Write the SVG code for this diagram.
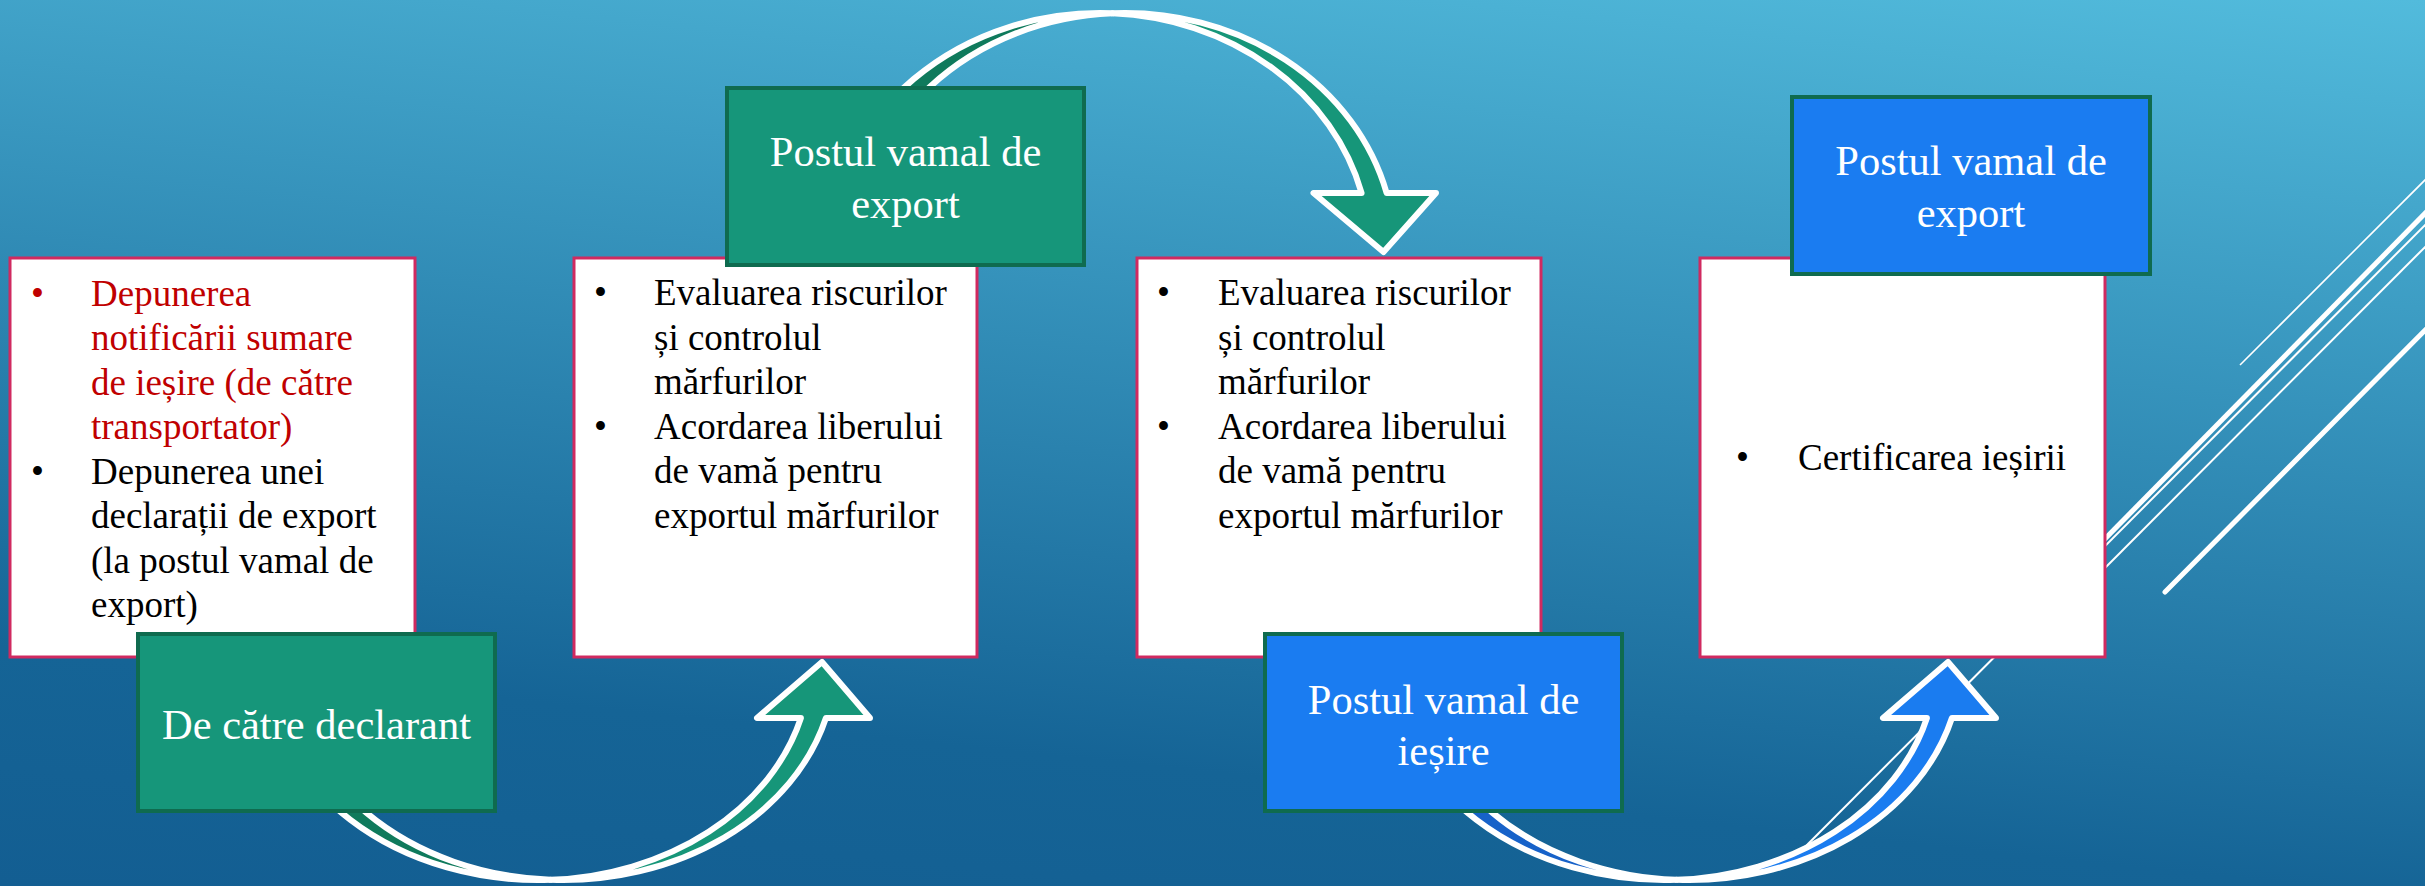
<svg xmlns="http://www.w3.org/2000/svg" width="2425" height="886" viewBox="0 0 2425 886">
  <defs>
    <linearGradient id="bg" gradientUnits="userSpaceOnUse" x1="2425" y1="0" x2="2309" y2="1124">
      <stop offset="0" stop-color="#52BBDC"/>
      <stop offset="0.79" stop-color="#156496"/>
      <stop offset="1" stop-color="#135E92"/>
    </linearGradient>
    <style>
      .card { fill: #FFFFFF; stroke: #D02A60; stroke-width: 3; }
      .hdr-g { fill: #16967A; stroke: #0F6B4F; stroke-width: 4; }
      .hdr-b { fill: #1A7CF1; stroke: #0F6B4F; stroke-width: 4; }
      .body { font-family: "Liberation Serif", "Times New Roman", serif; font-size: 37px; fill: #000000; }
      .red { fill: #C00000; }
      .hdr { font-family: "Liberation Serif", "Times New Roman", serif; font-size: 42.5px; fill: #FFFFFF; text-anchor: middle; }
      .arr { stroke: #FFFFFF; stroke-width: 6; stroke-linejoin: round; }
      .g-front { fill: #169679; }
      .g-back { fill: #0F7A5C; }
      .b-front { fill: #1A7CF0; }
      .b-back { fill: #1762C9; }
      .deco { stroke: #FFFFFF; fill: none; }
    </style>
  </defs>

  <rect x="0" y="0" width="2425" height="886" fill="url(#bg)"/>

  <g id="decoration">
    <line class="deco" x1="2240" y1="365" x2="2450" y2="155" stroke-width="1.6"/>
    <line class="deco" x1="2095" y1="549" x2="2450" y2="188" stroke-width="5"/>
    <line class="deco" x1="1804" y1="848" x2="2450" y2="200" stroke-width="2"/>
    <line class="deco" x1="2090" y1="583" x2="2450" y2="222" stroke-width="2"/>
    <line class="deco" x1="2165" y1="592" x2="2450" y2="305" stroke-width="5" stroke-linecap="round"/>
  </g>

  <g id="connectors">
    <g id="arrow-declarant-to-export">
      <path class="arr g-back" d="M 266 662 A 272 218 0 0 0 550.5 879.8 A 272 218 0 0 1 291 662 Z"/>
      <path class="arr g-front" d="M 550.5 879.8 A 272 218 0 0 0 825.9 718 L 870 718 L 822 662 L 757 718 L 800.9 718 A 272 218 0 0 1 550.5 879.8 Z"/>
    </g>
    <g id="arrow-export-to-control">
      <path class="arr g-back" d="M 830 252 A 270 239 0 0 1 1112.5 13.3 A 270 239 0 0 0 855 252 Z"/>
      <path class="arr g-front" d="M 1112.5 13.3 A 270 239 0 0 1 1386.6 193 L 1436 193 L 1383.5 252 L 1313.5 193 L 1361.6 193 A 270 239 0 0 0 1112.5 13.3 Z"/>
    </g>
    <g id="arrow-exit-to-certification" transform="translate(1126,0)">
      <path class="arr b-back" d="M 266 662 A 272 218 0 0 0 550.5 879.8 A 272 218 0 0 1 291 662 Z"/>
      <path class="arr b-front" d="M 550.5 879.8 A 272 218 0 0 0 825.9 718 L 870 718 L 822 662 L 757 718 L 800.9 718 A 272 218 0 0 1 550.5 879.8 Z"/>
    </g>
  </g>

  <g id="card-1">
    <rect class="card" x="10" y="258" width="405" height="399"/>
    <g class="body red">
      <text x="31" y="305.5">•</text>
      <text x="91" y="305.5">Depunerea</text>
      <text x="91" y="350">notificării sumare</text>
      <text x="91" y="394.5">de ieșire (de către</text>
      <text x="91" y="439">transportator)</text>
    </g>
    <g class="body">
      <text x="31" y="483.5">•</text>
      <text x="91" y="483.5">Depunerea unei</text>
      <text x="91" y="528">declarații de export</text>
      <text x="91" y="572.5">(la postul vamal de</text>
      <text x="91" y="617">export)</text>
    </g>
  </g>

  <g id="card-2">
    <rect class="card" x="574" y="258" width="403" height="399"/>
    <g class="body">
      <text x="594" y="305">•</text>
      <text x="654" y="305">Evaluarea riscurilor</text>
      <text x="654" y="349.5">și controlul</text>
      <text x="654" y="394">mărfurilor</text>
      <text x="594" y="438.5">•</text>
      <text x="654" y="438.5">Acordarea liberului</text>
      <text x="654" y="483">de vamă pentru</text>
      <text x="654" y="527.5">exportul mărfurilor</text>
    </g>
  </g>

  <g id="card-3">
    <rect class="card" x="1137" y="258" width="404" height="399"/>
    <g class="body">
      <text x="1157" y="305">•</text>
      <text x="1218" y="305">Evaluarea riscurilor</text>
      <text x="1218" y="349.5">și controlul</text>
      <text x="1218" y="394">mărfurilor</text>
      <text x="1157" y="438.5">•</text>
      <text x="1218" y="438.5">Acordarea liberului</text>
      <text x="1218" y="483">de vamă pentru</text>
      <text x="1218" y="527.5">exportul mărfurilor</text>
    </g>
  </g>

  <g id="card-4">
    <rect class="card" x="1700" y="258" width="405" height="399"/>
    <g class="body">
      <text x="1736" y="470">•</text>
      <text x="1798" y="470">Certificarea ieșirii</text>
    </g>
  </g>

  <g id="header-declarant">
    <rect class="hdr-g" x="138" y="634" width="357" height="177"/>
    <text class="hdr" x="316.5" y="739">De către declarant</text>
  </g>

  <g id="header-export-1">
    <rect class="hdr-g" x="727" y="88" width="357" height="177"/>
    <text class="hdr" x="905.5" y="166">Postul vamal de</text>
    <text class="hdr" x="905.5" y="218">export</text>
  </g>

  <g id="header-exit">
    <rect class="hdr-b" x="1265" y="634" width="357" height="177"/>
    <text class="hdr" x="1443.5" y="714">Postul vamal de</text>
    <text class="hdr" x="1443.5" y="765">ieșire</text>
  </g>

  <g id="header-export-2">
    <rect class="hdr-b" x="1792" y="97" width="358" height="177"/>
    <text class="hdr" x="1971" y="175">Postul vamal de</text>
    <text class="hdr" x="1971" y="227">export</text>
  </g>
</svg>
